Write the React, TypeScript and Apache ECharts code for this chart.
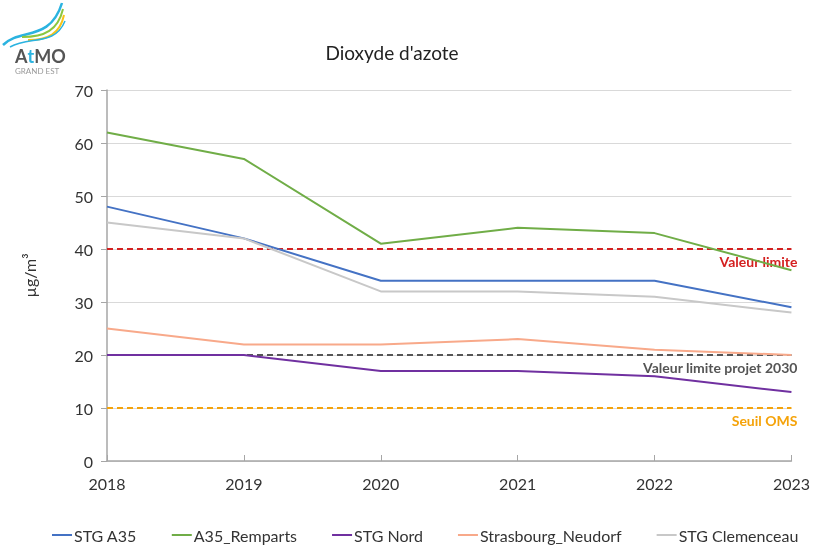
import React, { useEffect, useRef } from "react";
import * as echarts from "echarts";

const years = ["2018", "2019", "2020", "2021", "2022", "2023"];
const stgA35 = [48, 42, 34, 34, 34, 29];
const a35Remparts = [62, 57, 41, 44, 43, 36];
const stgNord = [20, 20, 17, 17, 16, 13];
const neudorf = [25, 22, 22, 23, 21, 20];
const clemenceau = [45, 42, 32, 32, 31, 28];
const seriesNames = ["STG A35", "A35_Remparts", "STG Nord", "Strasbourg_Neudorf", "STG Clemenceau"];
const seriesColors = ["#4472c4", "#70ad47", "#7030a0", "#f8a98a", "#c8c8c8"];
const thresholdValues = [40, 20, 10];
const thresholdLabels = ["Valeur limite", "Valeur limite projet 2030", "Seuil OMS"];
const thresholdColors = ["#d42020", "#555555", "#f5a30a"];

const FONT = "Lato, 'Open Sans', sans-serif";

export default function App() {
  const ref = useRef<HTMLDivElement>(null);
  useEffect(() => {
    if (!ref.current) return;
    const chart = echarts.init(ref.current, null, { renderer: "svg" });
    const data = [stgA35, a35Remparts, stgNord, neudorf, clemenceau];
    const series: any[] = data.map((d, i) => ({
      name: seriesNames[i],
      type: "line",
      data: d,
      symbol: "none",
      lineStyle: { width: 2, color: seriesColors[i] },
      itemStyle: { color: seriesColors[i] },
      z: 3,
    }));
    thresholdValues.forEach((v, i) => {
      series.push({
        name: thresholdLabels[i],
        type: "line",
        data: years.map(() => v),
        symbol: "none",
        lineStyle: { width: 2, color: thresholdColors[i], type: [6, 4] },
        z: 2,
        silent: true,
        endLabel: {
          show: true,
          formatter: thresholdLabels[i],
          color: thresholdColors[i],
          fontWeight: "bold",
          fontFamily: FONT,
          fontSize: 14,
          align: "right",
          offset: [-2, 12],
        },
      });
    });
    chart.setOption({
      animation: false,
      title: {
        text: "Dioxyde d'azote",
        left: 387,
        top: 38,
        textAlign: "center",
        textStyle: { fontFamily: FONT, fontSize: 19, fontWeight: "normal", color: "#222" },
      },
      legend: {
        data: seriesNames,
        top: 522,
        left: 47,
        icon: "rect",
        itemWidth: 20,
        itemHeight: 2,
        itemGap: 35,
        textStyle: { fontFamily: FONT, fontSize: 16, color: "#333", padding: [0, 0, 0, -3] },
      },
      grid: { left: 107, right: 14, top: 90, bottom: 86 },
      xAxis: {
        type: "category",
        data: years,
        boundaryGap: false,
        axisLine: { lineStyle: { color: "#a6a6a6", width: 1.5 } },
        axisTick: { inside: true, length: 6, lineStyle: { color: "#a6a6a6" } },
        axisLabel: { fontFamily: FONT, fontSize: 16, color: "#333", margin: 14 },
      },
      yAxis: {
        type: "value",
        min: 0,
        max: 70,
        interval: 10,
        name: "µg/m³",
        nameLocation: "middle",
        nameRotate: 90,
        nameGap: 70,
        nameTextStyle: { fontFamily: FONT, fontSize: 16, color: "#333" },
        axisLine: { show: true, lineStyle: { color: "#a6a6a6", width: 1.5 } },
        axisTick: { show: true, length: 6, lineStyle: { color: "#a6a6a6" } },
        splitLine: { lineStyle: { color: "#d9d9d9" } },
        axisLabel: { fontFamily: FONT, fontSize: 16, color: "#333", margin: 14 },
      },
      series,
      graphic: [
        { type: "bezierCurve", shape: { x1: 3, y1: 45, cpx1: 20, cpy1: 28, cpx2: 50, cpy2: 42, x2: 62, y2: 3 }, style: { stroke: "#2bb3e0", lineWidth: 2.5, fill: null } },
        { type: "bezierCurve", shape: { x1: 22, y1: 37, cpx1: 45, cpy1: 37, cpx2: 58, cpy2: 30, x2: 63, y2: 9 }, style: { stroke: "#8cc63f", lineWidth: 2, fill: null } },
        { type: "bezierCurve", shape: { x1: 28, y1: 40, cpx1: 48, cpy1: 40, cpx2: 60, cpy2: 34, x2: 64, y2: 15 }, style: { stroke: "#f7c418", lineWidth: 2, fill: null } },
        { type: "bezierCurve", shape: { x1: 10, y1: 47, cpx1: 30, cpy1: 36, cpx2: 55, cpy2: 46, x2: 65, y2: 21 }, style: { stroke: "#2bb3e0", lineWidth: 1.5, fill: null } },
        {
          type: "text",
          left: 15,
          top: 47,
          style: {
            text: "{a|A}{t|t}{a|MO}",
            rich: {
              a: { fontFamily: FONT, fontSize: 18, fontWeight: "bold", fill: "#555" },
              t: { fontFamily: FONT, fontSize: 18, fontWeight: "bold", fill: "#2bb3e0" },
            },
          },
        },
        {
          type: "text",
          left: 15,
          top: 67,
          style: { text: "GRAND EST", fontFamily: FONT, fontSize: 8, fill: "#999" },
        },
      ],
    });
    return () => chart.dispose();
  }, []);
  return <div ref={ref} style={{ position: "fixed", left: 0, top: 0, width: 813, height: 547 }} />;
}
